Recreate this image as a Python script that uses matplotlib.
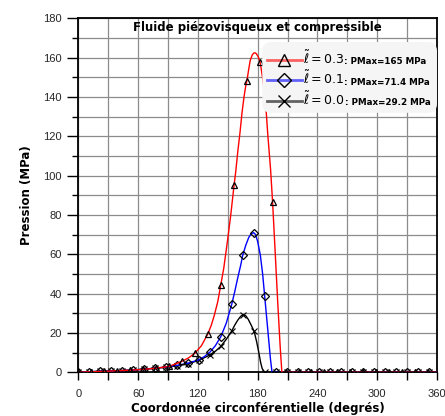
import numpy as np
import matplotlib
matplotlib.use("Agg")
import matplotlib.pyplot as plt
from matplotlib.lines import Line2D
from matplotlib.patches import FancyBboxPatch
from matplotlib.ticker import MultipleLocator

plt.rcParams['font.family'] = ['Liberation Sans', 'DejaVu Sans']

# courbes (lignes lisses)
red_cx = [0, 13, 26, 39, 52, 65, 78, 91, 104, 110.5, 117, 123.5, 130, 133.5, 136.5, 140, 143, 146,
          149.5, 153, 156.3, 158, 160, 162.3, 164.3, 166.3, 168, 169.3, 171, 172.5, 174.5, 176,
          177.3, 178.7, 180.5, 182.4, 184, 185.7, 187.4, 188.8, 190, 193, 195, 197.5, 200, 202.5,
          204.3, 360]
red_cy = [0, 0.3, 0.5, 0.8, 1.1, 1.5, 2.1, 3.0, 5.6, 7.3, 9.7, 13.5, 19.5, 24, 29, 36, 44.5, 53,
          66, 80, 95, 102, 112, 122, 132, 140, 145.5, 148.5, 154, 158.5, 161.3, 162.3,
          162.5, 162, 160.5, 157.9, 153, 147, 140, 131, 122, 103, 86.4, 62, 37, 14,
          0, 0]

blue_cx = [0, 11, 22, 33, 44, 55, 66, 77, 88, 99, 110, 121, 126.5, 132, 137.5, 143, 148.5, 154,
           157, 160, 163, 165, 168, 171, 173.5, 176, 178, 180, 182.7, 185, 187, 189, 191, 192.8,
           194.2, 194.6, 360]
blue_cy = [0, 0.3, 0.5, 0.7, 0.9, 1.2, 1.6, 2.1, 2.7, 3.5, 4.6, 6.4, 8.0, 10.2, 13.5, 18.1, 25, 34.6,
           41, 48, 54.5, 59.5, 64.5, 68.5, 70.5, 71, 70, 66.5, 59.6, 50, 39, 28, 17, 7,
           1, 0, 0]

black_cx = [0, 11, 22, 33, 44, 55, 66, 77, 88, 99, 110, 121, 132, 137.5, 143, 148.5, 154, 157, 160,
            163, 165.5, 168, 170.5, 173, 176.5, 179, 181, 183, 184.5, 186, 187, 360]
black_cy = [0, 0.3, 0.5, 0.7, 0.9, 1.2, 1.6, 2.1, 2.6, 3.3, 4.3, 6.1, 8.8, 10.7, 13.2, 16.8, 21, 24, 26.5,
            28.5, 29.3, 28.8, 27, 24.5, 20.8, 15.5, 10.5, 5, 2, 0.5, 0, 0]

# points marques
red_mx = [0, 13, 26, 39, 52, 65, 78, 91, 104, 117, 130, 143, 156, 169, 182, 195, 208, 221, 234,
          247, 260, 273, 286, 299, 312, 325, 338, 351]
red_my = [0, 0.3, 0.5, 0.8, 1.1, 1.5, 2.1, 3.0, 5.6, 9.7, 19.5, 44.5, 95, 148, 158, 86.4, 0, 0, 0,
          0, 0, 0, 0, 0, 0, 0, 0, 0]

bk_mx = [0, 11, 22, 33, 44, 55, 66, 77, 88, 99, 110, 121, 132, 143, 154, 165, 176, 187, 198, 209,
         220, 231, 242, 253, 264, 275, 286, 297, 308, 319, 330, 341, 352]
blue_my = [0, 0.3, 0.5, 0.7, 0.9, 1.2, 1.6, 2.1, 2.7, 3.5, 4.6, 6.4, 10.2, 18.1, 34.6, 59.5, 71, 39,
           0, 0, 0, 0, 0, 0, 0, 0, 0, 0, 0, 0, 0, 0, 0]
black_my = [0, 0.3, 0.5, 0.7, 0.9, 1.2, 1.6, 2.1, 2.6, 3.3, 4.3, 6.1, 8.8, 13.2, 21, 29.2, 20.8, 0,
            0, 0, 0, 0, 0, 0, 0, 0, 0, 0, 0, 0, 0, 0, 0]

labels = [r'$\tilde{\ell} = 0.3$', r'$\tilde{\ell} = 0.1$', r'$\tilde{\ell} = 0.0$']
pmax = [': PMax=165 MPa', ': PMax=71.4 MPa', ': PMax=29.2 MPa']
bold = ['DejaVu Sans']

fig = plt.figure(figsize=(4.45, 4.16), dpi=100)
ax = fig.add_axes([0.176, 0.105, 0.806, 0.851])

ax.plot(black_cx, black_cy, color='black', lw=1.0, zorder=3)
ax.plot(bk_mx, black_my, ls='none', marker='x', ms=5, mec='k', mew=0.8, zorder=3)
ax.plot(blue_cx, blue_cy, color='blue', lw=1.0, zorder=3)
ax.plot(bk_mx, blue_my, ls='none', marker='D', ms=4, mfc='none', mec='k', mew=0.9, zorder=3)
ax.plot(red_cx, red_cy, color='red', lw=1.0, zorder=3)
ax.plot(red_mx, red_my, ls='none', marker='^', ms=5, mfc='none', mec='k', mew=0.9, zorder=3)

ax.set_xlim(0, 360)
ax.set_ylim(0, 180)
ax.xaxis.set_major_locator(MultipleLocator(60))
ax.xaxis.set_minor_locator(MultipleLocator(30))
ax.yaxis.set_major_locator(MultipleLocator(20))
ax.yaxis.set_minor_locator(MultipleLocator(10))
ax.grid(which='both', color='0.55', lw=0.9, ls='-', zorder=0)
ax.set_axisbelow(True)
ax.tick_params(axis='y', which='major', length=8, width=1, direction='out', labelsize=8, pad=4)
ax.tick_params(axis='y', which='minor', length=4, width=1, direction='out')
ax.tick_params(axis='x', which='both', length=6, width=1, direction='out', labelsize=8, pad=6)
for lab in ax.get_xticklabels() + ax.get_yticklabels():
    lab.set_color('0.15')
for s in ax.spines.values():
    s.set_linewidth(1.3)

ax.set_xlabel('Coordonnée circonférentielle (degrés)', fontsize=8.5, fontweight='bold',
              family=bold, labelpad=2)
ax.set_ylabel('Pression (MPa)', fontsize=8.5, fontweight='bold', family=bold, labelpad=7)
ax.text(0.5, 0.973, 'Fluide piézovisqueux et compressible', transform=ax.transAxes,
        ha='center', va='center', fontsize=8.5, fontweight='bold', family=bold, zorder=6)

# cadre de la legende
box = FancyBboxPatch((0.513, 0.733), 0.487, 0.2, boxstyle='round,pad=0,rounding_size=0.025',
                     transform=ax.transAxes, facecolor='#f5f5f5', edgecolor='none', zorder=4)
ax.add_patch(box)

handles = [
    Line2D([], [], color=(1, 0, 0, 0.6), lw=2, marker='^', ms=9, mfc='none', mec='k', mew=1),
    Line2D([], [], color=(0, 0, 1, 0.6), lw=2, marker='D', ms=7.5, mfc='none', mec='k', mew=1),
    Line2D([], [], color=(0, 0, 0, 0.6), lw=2, marker='x', ms=9, mec='k', mew=1),
]
leg = ax.legend(handles, labels, loc='upper left', bbox_to_anchor=(0.525, 0.912), frameon=False,
                fontsize=9, handlelength=2.8, handletextpad=0.1, labelspacing=0.25,
                borderpad=0, borderaxespad=0)
leg.set_zorder(5)
for t, p in zip(leg.get_texts(), pmax):
    ax.annotate(p, xy=(1, 0.3), xycoords=t, xytext=(0, 0), textcoords='offset points',
                ha='left', va='center', fontsize=6.3, fontweight='bold', family=bold, zorder=6)

plt.savefig('out.png', dpi=100)
plt.close()
